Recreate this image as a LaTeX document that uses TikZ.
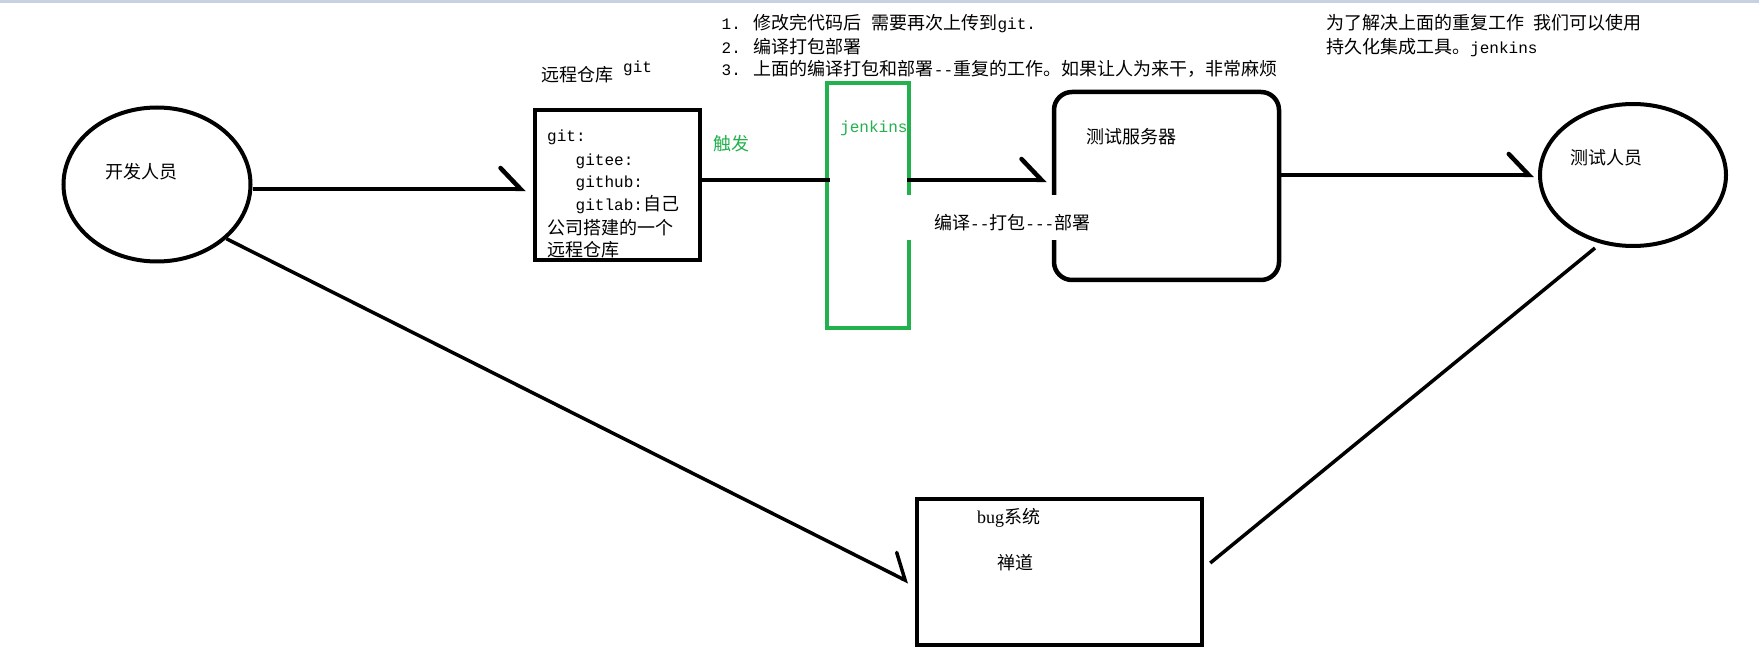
\documentclass[tikz,border=0pt]{standalone}
\usepackage{fontspec}
\setmainfont{Noto Sans CJK SC}
\newfontfamily\mono[Scale=0.89]{Liberation Mono}
\newfontfamily\serifl{Liberation Serif}
\usetikzlibrary{shapes.geometric,arrows.meta}
\definecolor{pgreen}{RGB}{34,177,76}
\definecolor{barcol}{RGB}{200,209,226}
\begin{document}
\begin{tikzpicture}[x=1pt,y=-1pt,
  txt/.style={anchor=west,inner sep=0pt,font=\fontsize{18}{22}\selectfont},
  person/.style={ellipse,draw,line width=4pt,inner sep=0pt},
  box/.style={rectangle,draw,line width=4.5pt,inner sep=0pt},
  conn/.style={line width=4.5pt,-{Straight Barb[left,length=20pt,width=42pt,line cap=round]}},
  plain/.style={line width=4.5pt},
  diag/.style={line width=3.5pt},
]
\useasboundingbox (0,0) rectangle (1759,668);
\fill[white] (0,0) rectangle (1759,668);
\fill[barcol] (0,0) rectangle (1759,3);

% shapes
\node[person, minimum width=187pt, minimum height=154pt] (dev) at (157,184.5) {};
\node[person, minimum width=186pt, minimum height=142pt] (tester) at (1633,175) {};
\node[box, minimum width=165pt, minimum height=150pt] (git) at (617.5,185) {};
\node[box, draw=pgreen, minimum width=82pt, minimum height=245pt] (jenk) at (868,205.5) {};
\node[box, rounded corners=18pt, minimum width=225pt, minimum height=188pt] (server) at (1166.5,186) {};
\node[box, minimum width=285pt, minimum height=146pt] (bug) at (1059.5,572) {};

% connectors
\coordinate (gitin) at ([xshift=-7pt,yshift=-4pt]git.west);
\draw[conn] (dev.east |- gitin) -- (gitin);
\coordinate (a1) at ([yshift=5pt]git.east);
\coordinate (jl) at (jenk.west |- a1);
\coordinate (jr) at (jenk.east |- a1);
\coordinate (sl) at (server.west |- a1);
\draw[plain] (a1) -- ([xshift=5pt]jl);
\draw[conn] ([xshift=-4pt]jr) -- ([xshift=-5pt]sl);
\draw[conn] (server.east |- tester.west) -- ([xshift=-4pt]tester.west);
\draw[conn, line width=3.5pt] (dev.-38) -- ([xshift=-6pt,yshift=-10pt]bug.west);
\draw[diag] ([xshift=-38pt]tester.south) -- ([xshift=6pt,yshift=9pt]bug.east);

% white gap for the label
\fill[white] (905,195) rectangle (1105,240);

% texts
\node[txt] (devl) at (105,172) {开发人员};
\node[txt] (testl) at (1570,158) {测试人员};
\node[txt] (servl) at (1086,137) {测试服务器};
\node[txt] (repol) at (541,75) {远程仓库};
\node[txt] (repog) at (623,68) {\mono git};
\node[txt] (g1) at (547,137) {\mono git:};
\node[txt] (g2) at (547,161) {\hspace*{28.5pt}{\mono gitee:}};
\node[txt] (g3) at (547,183) {\hspace*{28.5pt}{\mono github:}};
\node[txt] (g4) at (547,205) {\hspace*{28.5pt}{\mono gitlab:}自己};
\node[txt] (g5) at (547,228) {公司搭建的一个};
\node[txt] (g6) at (547,250) {远程仓库};
\node[txt, text=pgreen] (trig) at (713,144) {触发};
\node[txt, text=pgreen] (jenkl) at (840,128) {\mono jenkins};
\node[txt] (s1) at (721.5,24) {{\mono 1.}\hspace{13pt}修改完代码后{\mono\ }需要再次上传到{\mono git.}};
\node[txt] (s2) at (721.5,47) {{\mono 2.}\hspace{13pt}编译打包部署};
\node[txt] (s3) at (721.5,69) {{\mono 3.}\hspace{13pt}上面的编译打包和部署{\mono -{}-}重复的工作。如果让人为来干，非常麻烦};
\node[txt] (n1) at (1326,23) {为了解决上面的重复工作{\mono\ }我们可以使用};
\node[txt] (n2) at (1326,48) {持久化集成工具。{\mono jenkins}};
\node[txt] (cmp) at (934,223) {编译{\mono -{}-}打包{\mono -{}-{}-}部署};
\node[txt] (bugl) at (977,518) {{\serifl bug}系统};
\node[txt] (zen) at (997,563) {禅道};
\end{tikzpicture}
\end{document}
